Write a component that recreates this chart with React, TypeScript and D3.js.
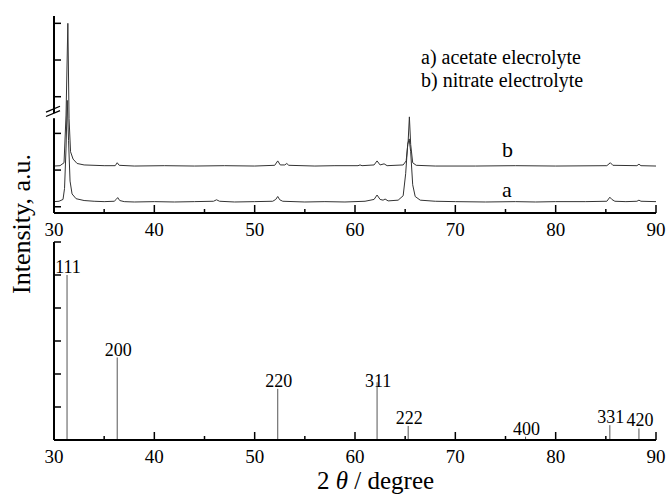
import * as d3 from "d3";

// XRD patterns (top panel), [2theta, intensity a.u.]
const curveA = [
  [30, 0.14], [30.5, 0.15], [30.9, 0.2], [31.05, 0.5], [31.2, 1.6], [31.32, 2.9], [31.45, 1.8],
  [31.6, 0.7], [31.8, 0.35], [32.2, 0.22], [33, 0.17], [34, 0.15], [35, 0.14], [36, 0.15],
  [36.2, 0.2], [36.35, 0.25], [36.55, 0.17], [37, 0.14], [38, 0.13], [40, 0.14], [42, 0.13],
  [44, 0.14], [45.9, 0.15], [46.2, 0.19], [46.5, 0.15], [48, 0.13], [50, 0.14], [51.8, 0.15],
  [52.1, 0.2], [52.3, 0.28], [52.5, 0.19], [52.8, 0.15], [55, 0.13], [57, 0.14], [59, 0.13],
  [61, 0.15], [61.9, 0.2], [62.2, 0.32], [62.5, 0.2], [62.8, 0.18], [63.0, 0.21], [63.3, 0.16],
  [64.3, 0.18], [64.8, 0.3], [65.05, 0.9], [65.25, 1.7], [65.4, 1.85], [65.55, 1.5], [65.75, 0.6],
  [66.0, 0.28], [66.5, 0.18], [68, 0.15], [70, 0.14], [73, 0.13], [76, 0.14], [78, 0.13],
  [80, 0.14], [83, 0.14], [85.1, 0.15], [85.4, 0.26], [85.6, 0.2], [85.9, 0.15], [87, 0.14],
  [88.1, 0.15], [88.3, 0.18], [88.5, 0.15], [90, 0.14],
];

const curveB = [
  [30, 1.11], [30.6, 1.12], [31.0, 1.2], [31.2, 2.5], [31.38, 5.0], [31.5, 2.4], [31.65, 1.5],
  [31.9, 1.3], [32.3, 1.18], [33, 1.14], [35, 1.12], [36.1, 1.12], [36.3, 1.2], [36.5, 1.13],
  [38, 1.11], [41, 1.12], [44, 1.11], [47, 1.12], [50, 1.11], [52.0, 1.13], [52.3, 1.25],
  [52.55, 1.14], [53.0, 1.14], [53.2, 1.18], [53.4, 1.13], [56, 1.11], [58, 1.12], [60.3, 1.12],
  [60.5, 1.14], [60.7, 1.12], [61.9, 1.14], [62.2, 1.25], [62.5, 1.14], [62.9, 1.17], [63.2, 1.12],
  [64.8, 1.14], [65.1, 1.25], [65.3, 1.8], [65.42, 2.45], [65.55, 1.7], [65.75, 1.2], [66.1, 1.13],
  [68, 1.11], [72, 1.11], [76, 1.12], [80, 1.11], [85.1, 1.12], [85.45, 1.2], [85.7, 1.13],
  [88.1, 1.12], [88.3, 1.16], [88.5, 1.12], [90, 1.11],
];

// reference pattern (bottom panel)
const refPos = [31.3, 36.3, 52.3, 62.2, 65.3, 77.0, 85.4, 88.3];
const refInt = [100, 50, 31, 35, 8.5, 2, 9, 7];
const refHkl = ["111", "200", "220", "311", "222", "400", "331", "420"];

const xMajor = [30, 40, 50, 60, 70, 80, 90];
const xMinor = [35, 45, 55, 65, 75, 85];
const topYTicks = [0, 1, 2, 3, 4, 5];
const botYTicks = [0, 20, 40, 60, 80, 100, 120];

const legendLines = ["a) acetate elecrolyte", "b) nitrate electrolyte"];

const font = "Liberation Serif, Times New Roman, serif";

export default function App() {
  const x = d3.scaleLinear().domain([30, 90]).range([54, 656]);
  const yTop = d3.scaleLinear().domain([-0.17, 5.2]).range([213, 16]);
  const yBot = d3.scaleLinear().domain([0, 120]).range([440, 242]);

  const line = d3
    .line<number[]>()
    .x((d) => x(d[0]))
    .y((d) => yTop(d[1]));

  const xAxis = (y0: number, key: string) => (
    <g key={key}>
      <line x1={x(30)} x2={x(90)} y1={y0} y2={y0} stroke="#000" strokeWidth={2} />
      {xMajor.map((t) => (
        <g key={t}>
          <line x1={x(t)} x2={x(t)} y1={y0} y2={y0 - 8} stroke="#000" strokeWidth={1.5} />
          <text x={x(t)} y={y0 + 23} textAnchor="middle" fontSize={19} style={{ fontFamily: font }}>
            {t}
          </text>
        </g>
      ))}
      {xMinor.map((t) => (
        <line key={t} x1={x(t)} x2={x(t)} y1={y0} y2={y0 - 4} stroke="#000" strokeWidth={1.5} />
      ))}
    </g>
  );

  return (
    <svg
      width={668}
      height={494}
      style={{ position: "absolute", left: 0, top: 0, background: "#fff", fontFamily: font }}
    >
      <rect width={668} height={494} fill="#fff" />

      {/* top panel */}
      <path d={line(curveA) ?? ""} fill="none" stroke="#333" strokeWidth={1} />
      <path d={line(curveB) ?? ""} fill="none" stroke="#333" strokeWidth={1} />
      <line x1={54} x2={54} y1={16} y2={213} stroke="#000" strokeWidth={2} />
      {topYTicks.map((t) => (
        <line key={t} x1={54} x2={61} y1={yTop(t)} y2={yTop(t)} stroke="#000" strokeWidth={1.5} />
      ))}
      {/* axis break */}
      <rect x={51} y={yTop(2.55)} width={6} height={5} fill="#fff" />
      <line x1={46} y1={yTop(2.46)} x2={60} y2={yTop(2.62)} stroke="#000" strokeWidth={1.3} />
      <line x1={46} y1={yTop(2.58)} x2={60} y2={yTop(2.74)} stroke="#000" strokeWidth={1.3} />
      {xAxis(213, "top")}

      <text x={502} y={157} fontSize={22} style={{ fontFamily: font }}>b</text>
      <text x={502} y={197} fontSize={22} style={{ fontFamily: font }}>a</text>
      {legendLines.map((s, i) => (
        <text key={s} x={421} y={64 + i * 23} fontSize={20} style={{ fontFamily: font }}>
          {s}
        </text>
      ))}

      {/* bottom panel */}
      {refPos.map((p, i) => (
        <line key={p} x1={x(p)} x2={x(p)} y1={yBot(0)} y2={yBot(refInt[i])} stroke="#555" strokeWidth={1} />
      ))}
      {refPos.map((p, i) => (
        <text
          key={refHkl[i]}
          x={x(p) + 1}
          y={refHkl[i] === "311" ? yBot(refInt[i]) + 5 : yBot(refInt[i]) - 2}
          textAnchor="middle"
          fontSize={18}
          style={{ fontFamily: font }}
        >
          {refHkl[i]}
        </text>
      ))}
      <line x1={54} x2={54} y1={242} y2={440} stroke="#000" strokeWidth={2} />
      {botYTicks.map((t) => (
        <line key={t} x1={54} x2={61} y1={yBot(t)} y2={yBot(t)} stroke="#000" strokeWidth={1.5} />
      ))}
      {xAxis(440, "bottom")}

      {/* titles */}
      <text x={317} y={489} fontSize={25} style={{ fontFamily: font }}>
        2 <tspan fontStyle="italic">θ</tspan> / degree
      </text>
      <text
        transform="translate(30,224) rotate(-90)"
        textAnchor="middle"
        fontSize={26}
        style={{ fontFamily: font }}
      >
        Intensity, a.u.
      </text>
    </svg>
  );
}
